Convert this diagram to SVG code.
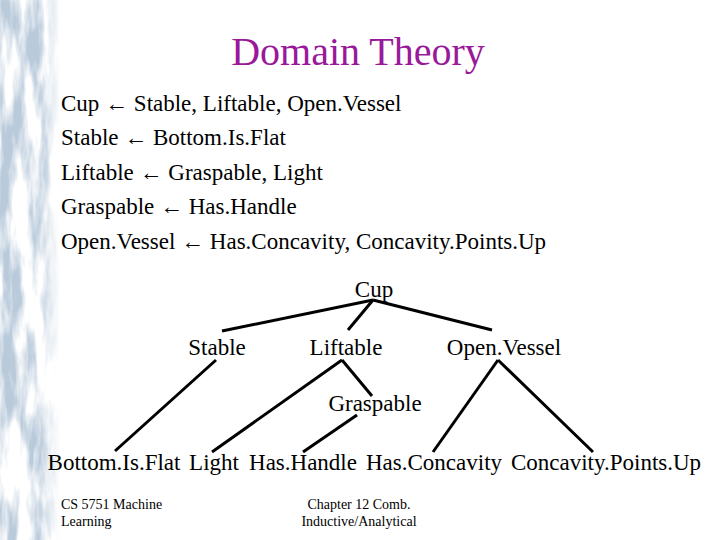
<svg xmlns="http://www.w3.org/2000/svg" width="720" height="540" viewBox="0 0 720 540">
<defs>
<style>
text{font-family:"Liberation Serif","Times New Roman",Times,serif;fill:#000}
.title{font-size:40px;fill:#99199a;text-anchor:middle}
.rule{font-size:23px}
.node{font-size:23px;text-anchor:middle}
.foot{font-size:14px}
.mid{text-anchor:middle}
.edge{stroke:#000;stroke-width:3;stroke-linecap:butt;fill:none}
</style>
<linearGradient id="fade" x1="0" y1="0" x2="1" y2="0">
<stop offset="0" stop-color="#fff" stop-opacity="1"/>
<stop offset="0.7" stop-color="#fff" stop-opacity="1"/>
<stop offset="1" stop-color="#fff" stop-opacity="0"/>
</linearGradient>
<mask id="m">
<rect x="0" y="0" width="60" height="540" fill="url(#fade)"/>
</mask>
<filter id="marble" x="0" y="0" width="100%" height="100%" color-interpolation-filters="sRGB">
<feTurbulence type="fractalNoise" baseFrequency="0.06 0.012" numOctaves="4" seed="7" result="n"/>
<feColorMatrix in="n" type="matrix" values="0 0 0 0 1  0 0 0 0 1  0 0 0 0 1  -4 0 0 0 2.6" result="c"/>
<feFlood flood-color="#b9cadb" result="bg"/>
<feComposite in="c" in2="bg" operator="over"/>
</filter>
</defs>
<rect x="0" y="0" width="720" height="540" fill="#fff"/>
<rect x="0" y="0" width="60" height="540" filter="url(#marble)" mask="url(#m)"/>

<text class="title" x="358" y="65">Domain Theory</text>

<g id="rules">
<text class="rule" x="61" y="111">Cup ← Stable, Liftable, Open.Vessel</text>
<text class="rule" x="61" y="145">Stable ← Bottom.Is.Flat</text>
<text class="rule" x="61" y="180">Liftable ← Graspable, Light</text>
<text class="rule" x="61" y="214">Graspable ← Has.Handle</text>
<text class="rule" x="61" y="249">Open.Vessel ← Has.Concavity, Concavity.Points.Up</text>
</g>

<g id="connectors">
<line class="edge" x1="373" y1="300" x2="222" y2="331"/>
<line class="edge" x1="373" y1="300" x2="348" y2="330"/>
<line class="edge" x1="373" y1="300" x2="492" y2="330"/>
<line class="edge" x1="216" y1="360" x2="115" y2="451"/>
<line class="edge" x1="342" y1="360" x2="212" y2="452"/>
<line class="edge" x1="342" y1="360" x2="372" y2="396"/>
<line class="edge" x1="357" y1="415" x2="303" y2="452"/>
<line class="edge" x1="498" y1="360" x2="433" y2="452"/>
<line class="edge" x1="498" y1="360" x2="593" y2="452"/>
</g>

<g id="node-cup"><text class="node" x="374" y="297">Cup</text></g>
<g id="node-stable"><text class="node" x="217" y="355">Stable</text></g>
<g id="node-liftable"><text class="node" x="346" y="355">Liftable</text></g>
<g id="node-openvessel"><text class="node" x="504" y="355">Open.Vessel</text></g>
<g id="node-graspable"><text class="node" x="375" y="411">Graspable</text></g>
<g id="node-bottomisflat"><text class="node" x="114" y="470">Bottom.Is.Flat</text></g>
<g id="node-light"><text class="node" x="214" y="470">Light</text></g>
<g id="node-hashandle"><text class="node" x="303" y="470">Has.Handle</text></g>
<g id="node-hasconcavity"><text class="node" x="434" y="470">Has.Concavity</text></g>
<g id="node-concavitypointsup"><text class="node" x="606" y="470">Concavity.Points.Up</text></g>

<g id="footer">
<text class="foot" x="61" y="509">CS 5751 Machine</text>
<text class="foot" x="61" y="526">Learning</text>
<text class="foot mid" x="359" y="509">Chapter 12  Comb.</text>
<text class="foot mid" x="359" y="526">Inductive/Analytical</text>
</g>
</svg>
